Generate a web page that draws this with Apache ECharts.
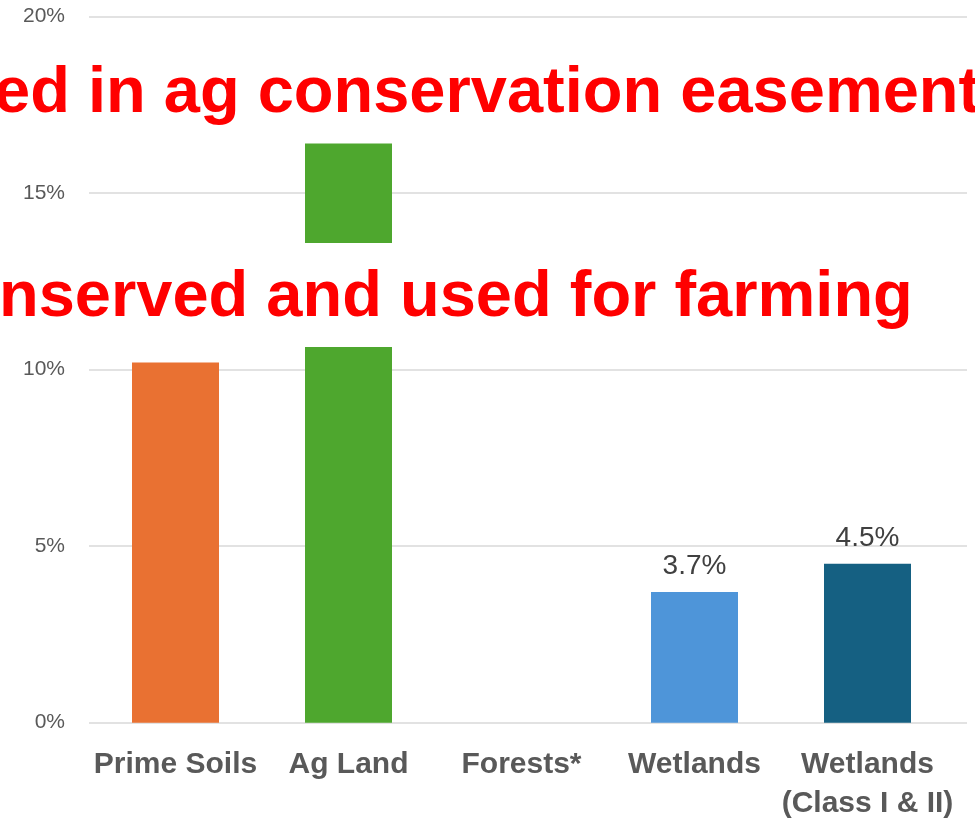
<!DOCTYPE html>
<html>
<head>
<meta charset="utf-8">
<script src="https://cdn.jsdelivr.net/npm/echarts@6/dist/echarts.min.js"></script>
<style>
  html, body { margin: 0; padding: 0; background: #ffffff; }
  #chart { width: 975px; height: 819px; }
</style>
</head>
<body>
<div id="chart"></div>
<script>
// Share of each land type that is conserved (percent)
const categories = ['Prime Soils', 'Ag Land', 'Forests*', 'Wetlands', 'Wetlands\n(Class I & II)'];
const shares = [10.2, 16.4, null, 3.7, 4.5];
const barColors = ['#E97132', '#4EA72E', '#A5A5A5', '#4E95D9', '#156082'];
const showValue = [false, false, false, true, true];

// Value axis ticks
const yMin = 0;
const yMax = 20;
const yStep = 5;

// Overlaid callout lines
const notes = ['ed in ag conservation easements', 'nserved and used for farming'];

const FONT = '"Liberation Sans", Arial, sans-serif';
const chart = echarts.init(document.getElementById('chart'), null, { renderer: 'canvas' });

const barData = shares.map((v, i) => ({
  value: v,
  itemStyle: { color: barColors[i] },
  label: { show: showValue[i] }
}));

chart.setOption({
  backgroundColor: '#ffffff',
  animation: false,
  grid: [
    // plot area holding the bars
    { left: 89, right: 21, top: 16.5, bottom: 96.3, containLabel: false, outerBoundsMode: 'none' },
    // wider area carrying the horizontal gridlines and tick labels
    { left: 89, right: 8, top: 16.5, bottom: 96.3, containLabel: false, outerBoundsMode: 'none' }
  ],
  xAxis: [
    {
      gridIndex: 0,
      type: 'category',
      data: categories,
      axisLine: { show: false },
      axisTick: { show: false },
      axisLabel: {
        interval: 0,
        margin: 23,
        color: '#595959',
        fontFamily: FONT,
        fontSize: 30,
        fontWeight: 'bold',
        lineHeight: 39
      }
    },
    { gridIndex: 1, type: 'value', show: false, min: 0, max: 1 }
  ],
  yAxis: [
    {
      gridIndex: 0, type: 'value', min: yMin, max: yMax, interval: yStep,
      axisLine: { show: false }, axisTick: { show: false },
      axisLabel: { show: false }, splitLine: { show: false }
    },
    {
      gridIndex: 1, type: 'value', min: yMin, max: yMax, interval: yStep,
      axisLine: { show: false }, axisTick: { show: false },
      axisLabel: {
        margin: 24,
        color: '#595959',
        fontFamily: FONT,
        fontSize: 21,
        formatter: v => v + '%'
      },
      splitLine: { lineStyle: { color: '#d9d9d9', width: 1.5 } }
    }
  ],
  series: [
    {
      type: 'bar',
      xAxisIndex: 0,
      yAxisIndex: 0,
      data: barData,
      barWidth: 87,
      label: {
        position: 'top',
        distance: 12,
        color: '#404040',
        fontFamily: FONT,
        fontSize: 28,
        formatter: p => p.value.toFixed(1) + '%'
      }
    }
  ],
  graphic: [
    {
      type: 'text',
      z: 100,
      x: -6,
      y: 94,
      style: {
        text: notes[0],
        fill: '#FF0000',
        font: 'bold 65px ' + FONT,
        align: 'left',
        verticalAlign: 'middle'
      }
    },
    {
      type: 'rect',
      z: 100,
      shape: { x: 0, y: 243, width: 930, height: 104 },
      style: { fill: '#ffffff' }
    },
    {
      type: 'text',
      z: 101,
      x: -1,
      y: 298,
      style: {
        text: notes[1],
        fill: '#FF0000',
        font: 'bold 65px ' + FONT,
        align: 'left',
        verticalAlign: 'middle'
      }
    }
  ]
});
</script>
</body>
</html>
